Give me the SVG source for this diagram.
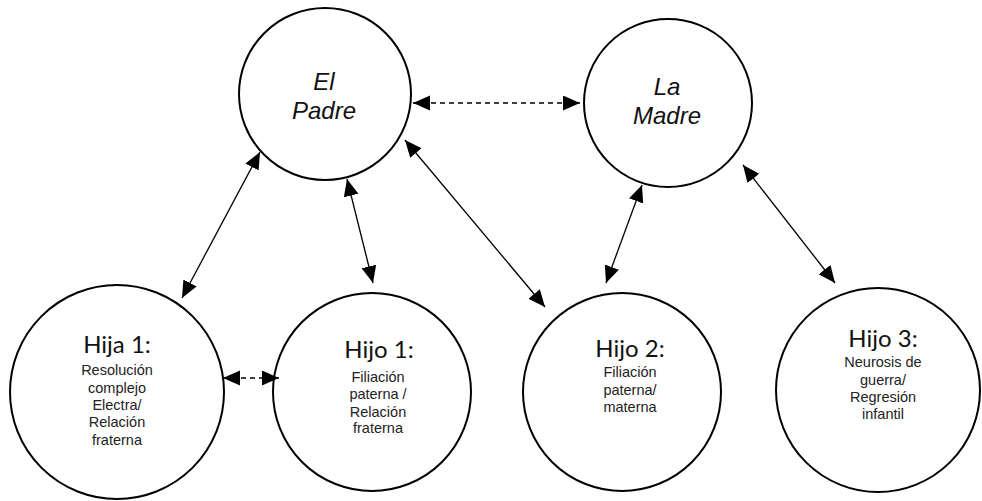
<svg xmlns="http://www.w3.org/2000/svg" width="982" height="501" viewBox="0 0 982 501">
<style>
.node{fill:#fff;stroke:#000;stroke-width:2}
.big{font-family:"Liberation Sans",Arial,sans-serif;font-style:italic;font-size:24px;fill:#111;text-anchor:middle}
.title{font-family:Lato,"Open Sans",sans-serif;font-size:24px;fill:#111;text-anchor:middle}
.sub{font-family:"Liberation Sans",Arial,sans-serif;font-size:14.5px;fill:#222;text-anchor:middle}
.c{fill:none;stroke:#000;stroke-width:1.3;marker-start:url(#ah);marker-end:url(#ah)}
.d{stroke-dasharray:5 4}
</style>
<defs>
<marker id="ah" markerUnits="userSpaceOnUse" markerWidth="18" markerHeight="16" refX="17" refY="7.5" orient="auto-start-reverse">
<path d="M0,0 L17,7.5 L0,15 z" fill="#000"/>
</marker>
</defs>
<g id="padre"><circle class="node" cx="325" cy="94" r="86"/><text class="big" x="324" y="90">El</text><text class="big" x="324" y="119">Padre</text></g>
<g id="madre"><circle class="node" cx="668" cy="103" r="84"/><text class="big" x="667" y="95">La</text><text class="big" x="667" y="124">Madre</text></g>
<g id="hija1"><circle class="node" cx="117" cy="392" r="107"/><text class="title" x="117" y="353">Hija 1:</text>
<text class="sub" x="117" y="375">Resolución</text><text class="sub" x="117" y="393">complejo</text><text class="sub" x="117" y="410">Electra/</text><text class="sub" x="117" y="427">Relación</text><text class="sub" x="117" y="445">fraterna</text></g>
<g id="hijo1"><circle class="node" cx="372" cy="392" r="99"/><text class="title" x="379" y="358">Hijo 1:</text>
<text class="sub" x="378" y="382">Filiación</text><text class="sub" x="378" y="399">paterna /</text><text class="sub" x="378" y="417">Relación</text><text class="sub" x="378" y="433">fraterna</text></g>
<g id="hijo2"><circle class="node" cx="622" cy="392" r="99"/><text class="title" x="630" y="357">Hijo 2:</text>
<text class="sub" x="630" y="377">Filiación</text><text class="sub" x="630" y="395">paterna/</text><text class="sub" x="630" y="412">materna</text></g>
<g id="hijo3"><circle class="node" cx="878" cy="390" r="102"/><text class="title" x="883" y="347">Hijo 3:</text>
<text class="sub" x="883" y="367">Neurosis de</text><text class="sub" x="883" y="385">guerra/</text><text class="sub" x="883" y="402">Regresión</text><text class="sub" x="883" y="419">infantil</text></g>
<g id="connectors">
<line class="c d" x1="413" y1="103" x2="580" y2="103"/>
<line class="c" x1="260" y1="152" x2="182" y2="298"/>
<line class="c" x1="347" y1="179" x2="373" y2="283"/>
<line class="c" x1="405" y1="140" x2="545" y2="307"/>
<line class="c" x1="642" y1="185" x2="606" y2="283"/>
<line class="c" x1="743" y1="165" x2="835" y2="283"/>
<line class="c d" x1="223" y1="378" x2="279" y2="378"/>
</g>
</svg>
